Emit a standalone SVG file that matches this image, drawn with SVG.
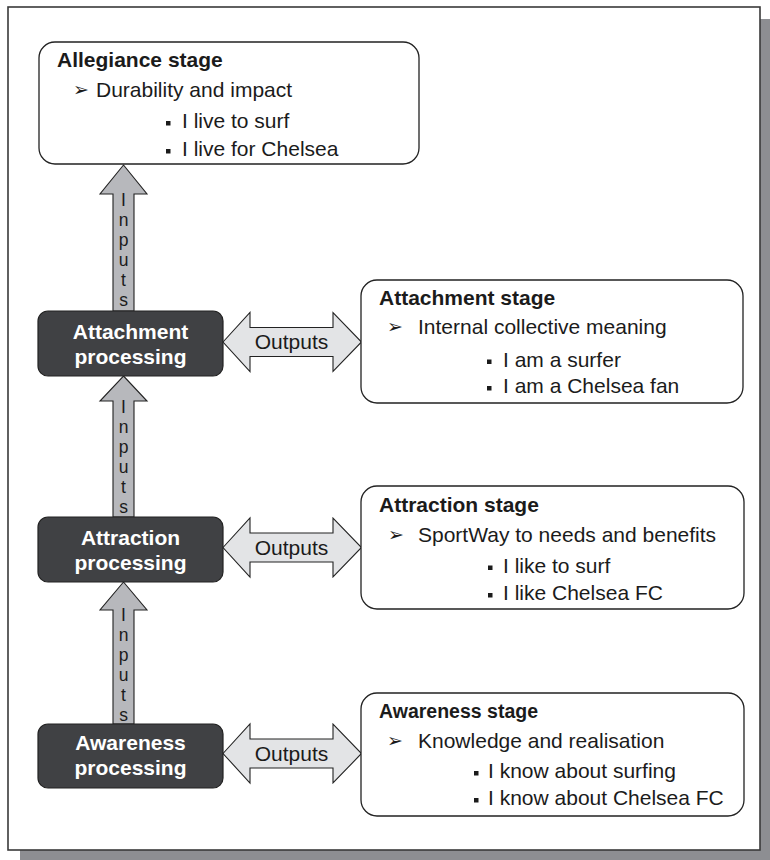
<svg xmlns="http://www.w3.org/2000/svg" width="770" height="860" viewBox="0 0 770 860">
  <style>
    text { font-family: "Liberation Sans", Arial, sans-serif; fill: #1b1b1b; }
    .stage { fill: #ffffff; stroke: #222222; stroke-width: 1.3; }
    .proc { fill: #404144; stroke: #222222; stroke-width: 1.2; }
    .proc-label { font-size: 21px; font-weight: bold; fill: #ffffff; text-anchor: middle; }
    .title { font-size: 21px; font-weight: bold; }
    .body { font-size: 21px; }
    .mark { font-family: "DejaVu Sans", sans-serif; font-size: 19px; }
    .bullet { fill: #1b1b1b; }
    .inputs { fill: #b7b8bc; stroke: #222222; stroke-width: 1.1; }
    .outputs { fill: #e3e4e6; stroke: #222222; stroke-width: 1.1; }
    .in-label { font-size: 17.5px; text-anchor: middle; writing-mode: vertical-rl; text-orientation: upright; }
    .out-label { font-size: 21px; text-anchor: middle; }
  </style>

  <!-- page frame with drop shadow -->
  <rect x="20" y="19" width="750" height="841" fill="#8d8e92"/>
  <rect x="8" y="7" width="752" height="843" fill="#ffffff" stroke="#3a3a3a" stroke-width="1.6"/>

  <!-- connectors -->
  <g id="connectors">
    <!-- Inputs: awareness -> attraction -> attachment -> allegiance -->
    <g id="inputs-attachment-allegiance">
      <polygon class="inputs" points="123.5,165 147,194 134,194 134,311 113,311 113,194 100,194"/>
      <text class="in-label" x="123.5" y="250">Inputs</text>
    </g>
    <g id="inputs-attraction-attachment">
      <polygon class="inputs" points="123.5,376 147,401 134,401 134,517 113,517 113,401 100,401"/>
      <text class="in-label" x="123.5" y="457">Inputs</text>
    </g>
    <g id="inputs-awareness-attraction">
      <polygon class="inputs" points="123.5,582 147,610 134,610 134,724 113,724 113,610 100,610"/>
      <text class="in-label" x="123.5" y="665">Inputs</text>
    </g>

    <!-- Outputs: processing <-> stage -->
    <g id="outputs-attachment">
      <polygon class="outputs" points="223,342 250,312.5 250,327.5 333,327.5 333,312.5 361.5,342 333,371.5 333,356.5 250,356.5 250,371.5"/>
      <text class="out-label" x="291.5" y="349">Outputs</text>
    </g>
    <g id="outputs-attraction">
      <polygon class="outputs" points="223,547.5 250,518 250,533 333,533 333,518 361.5,547.5 333,577 333,562 250,562 250,577"/>
      <text class="out-label" x="291.5" y="554.5">Outputs</text>
    </g>
    <g id="outputs-awareness">
      <polygon class="outputs" points="223,753.5 250,724 250,739 333,739 333,724 361.5,753.5 333,783 333,768 250,768 250,783"/>
      <text class="out-label" x="291.5" y="760.5">Outputs</text>
    </g>
  </g>

  <!-- stage nodes -->
  <g id="allegiance-stage">
    <rect class="stage" x="39" y="42" width="380" height="122" rx="16"/>
    <text class="title" x="57" y="67">Allegiance stage</text>
    <text class="mark" x="73" y="96">➢</text>
    <text class="body" x="96" y="97">Durability and impact</text>
    <rect class="bullet" x="166" y="121" width="4.5" height="4.5"/>
    <text class="body" x="182" y="128">I live to surf</text>
    <rect class="bullet" x="166" y="149" width="4.5" height="4.5"/>
    <text class="body" x="182" y="156">I live for Chelsea</text>
  </g>

  <g id="attachment-stage">
    <rect class="stage" x="361" y="280" width="382" height="123" rx="16"/>
    <text class="title" x="379" y="305">Attachment stage</text>
    <text class="mark" x="387" y="333">➢</text>
    <text class="body" x="418" y="334">Internal collective meaning</text>
    <rect class="bullet" x="487" y="359.5" width="4.5" height="4.5"/>
    <text class="body" x="503" y="366.5">I am a surfer</text>
    <rect class="bullet" x="487" y="386" width="4.5" height="4.5"/>
    <text class="body" x="503" y="393">I am a Chelsea fan</text>
  </g>

  <g id="attraction-stage">
    <rect class="stage" x="361" y="486" width="383" height="123" rx="16"/>
    <text class="title" x="379" y="511.5">Attraction stage</text>
    <text class="mark" x="388" y="540.5">➢</text>
    <text class="body" x="418" y="541.5">SportWay to needs and benefits</text>
    <rect class="bullet" x="488" y="565.5" width="4.5" height="4.5"/>
    <text class="body" x="503" y="572.5">I like to surf</text>
    <rect class="bullet" x="488" y="593" width="4.5" height="4.5"/>
    <text class="body" x="503" y="600">I like Chelsea FC</text>
  </g>

  <g id="awareness-stage">
    <rect class="stage" x="361" y="693" width="383" height="123" rx="16"/>
    <text class="title" x="379" y="718" style="font-size:19.5px">Awareness stage</text>
    <text class="mark" x="387" y="747">➢</text>
    <text class="body" x="418" y="748">Knowledge and realisation</text>
    <rect class="bullet" x="474" y="771" width="4.5" height="4.5"/>
    <text class="body" x="488" y="778">I know about surfing</text>
    <rect class="bullet" x="474" y="798" width="4.5" height="4.5"/>
    <text class="body" x="488" y="805">I know about Chelsea FC</text>
  </g>

  <!-- processing nodes -->
  <g id="attachment-processing">
    <rect class="proc" x="38" y="311" width="185" height="65" rx="10"/>
    <text class="proc-label" x="130.5" y="339">Attachment</text>
    <text class="proc-label" x="130.5" y="364">processing</text>
  </g>

  <g id="attraction-processing">
    <rect class="proc" x="38" y="517" width="185" height="65" rx="10"/>
    <text class="proc-label" x="130.5" y="545">Attraction</text>
    <text class="proc-label" x="130.5" y="570">processing</text>
  </g>

  <g id="awareness-processing">
    <rect class="proc" x="38" y="724" width="185" height="64" rx="10"/>
    <text class="proc-label" x="130.5" y="750">Awareness</text>
    <text class="proc-label" x="130.5" y="775">processing</text>
  </g>
</svg>
